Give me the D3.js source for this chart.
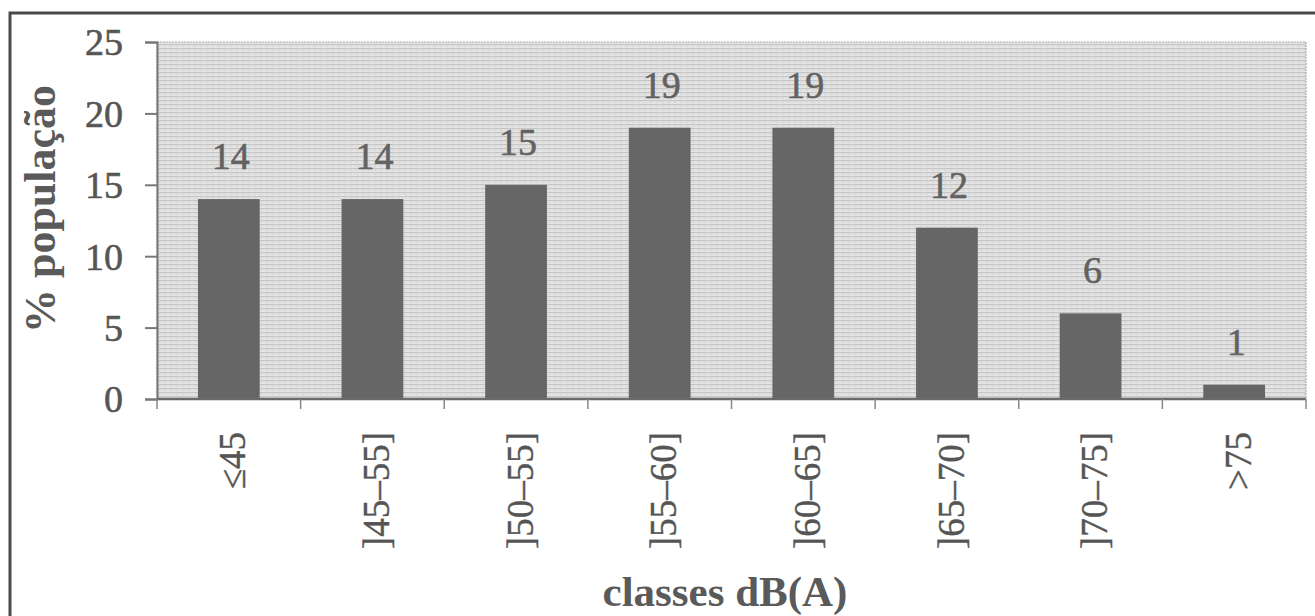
<!DOCTYPE html>
<html>
<head>
<meta charset="utf-8">
<script src="https://cdn.jsdelivr.net/npm/d3@7"></script>
<style>
  html, body { margin: 0; padding: 0; background: #fff; }
  svg { display: block; }
  text { font-family: "Liberation Serif", "Times New Roman", serif; }
</style>
</head>
<body>
<svg id="chart" width="1315" height="616"></svg>
<script>
const categories = ["≤45", "]45–55]", "]50–55]", "]55–60]", "]60–65]", "]65–70]", "]70–75]", ">75"];
const values = [14, 14, 15, 19, 19, 12, 6, 1];
const yTicks = [0, 5, 10, 15, 20, 25];
const yTitle = "% população";
const xTitle = "classes dB(A)";

(function () {
const svg = d3.select("#chart");
const W = 1315, H = 616;
const pLeft = 157, pRight = 1306, pTop = 42, pBottom = 399;

// outer frame (top + left lines)
svg.append("path")
  .attr("d", `M${W},13 L10,13 L10,${H}`)
  .attr("fill", "none").attr("stroke", "#4a4a4a").attr("stroke-width", 3);

// texture pattern
const defs = svg.append("defs");
const pat = defs.append("pattern").attr("id", "tex")
  .attr("patternUnits", "userSpaceOnUse").attr("width", 6).attr("height", 4);
pat.append("rect").attr("width", 6).attr("height", 4).attr("fill", "#e4e4e4");
pat.append("rect").attr("y", 0).attr("width", 6).attr("height", 1.2).attr("fill", "#c6c6c6");
pat.append("rect").attr("x", 2).attr("y", 2).attr("width", 2).attr("height", 1).attr("fill", "#d6d6d6");

const x = d3.scaleBand().domain(categories).range([pLeft, pRight]).paddingInner(0.57).paddingOuter(0.285);
const y = d3.scaleLinear().domain([0, 25]).range([pBottom, pTop]);

// plot area
svg.append("rect")
  .attr("x", pLeft).attr("y", y(25)).attr("width", pRight - pLeft).attr("height", y(0) - y(25))
  .attr("fill", "url(#tex)").attr("stroke", "#b0b0b0").attr("stroke-width", 1.2).attr("stroke-dasharray", "2,1");

// bars
svg.append("g").selectAll("rect").data(values).join("rect")
  .attr("x", (d, i) => x(categories[i]))
  .attr("y", d => y(d))
  .attr("width", x.bandwidth())
  .attr("height", d => y(0) - y(d))
  .attr("fill", "#666666");

// value labels
svg.append("g").selectAll("text").data(values).join("text")
  .attr("x", (d, i) => x(categories[i]) + x.bandwidth() / 2 + 2)
  .attr("y", d => y(d) - 30)
  .attr("text-anchor", "middle")
  .attr("font-size", 38)
  .attr("fill", "#626262").attr("stroke", "#626262").attr("stroke-width", 0.6)
  .text(d => d);

// y axis
const yAxis = svg.append("g").attr("transform", `translate(${pLeft},0)`)
  .call(d3.axisLeft(y).tickValues(yTicks).tickSize(12).tickPadding(22).tickFormat(d3.format("d")));
yAxis.select(".domain").attr("stroke", "#777").attr("stroke-width", 2);
yAxis.selectAll(".tick line").attr("stroke", "#777").attr("stroke-width", 2);
yAxis.selectAll(".tick text")
  .attr("font-family", "Liberation Serif, serif").attr("font-size", 38).attr("fill", "#555")
  .attr("stroke", "#555").attr("stroke-width", 0.6)
  .attr("dy", "0.34em");

// x axis baseline with ticks at band boundaries
const step = x.step();
const bounds = d3.range(categories.length + 1).map(i => pLeft + i * step);
svg.append("line").attr("x1", pLeft).attr("x2", pRight).attr("y1", pBottom).attr("y2", pBottom)
  .attr("stroke", "#6a6a6a").attr("stroke-width", 2.5);
svg.append("g").selectAll("line").data(bounds).join("line")
  .attr("x1", d => d).attr("x2", d => d).attr("y1", pBottom).attr("y2", pBottom + 10)
  .attr("stroke", "#888").attr("stroke-width", 1.5);

// category labels
svg.append("g").selectAll("text").data(categories).join("text")
  .attr("transform", d => `translate(${x(d) + x.bandwidth() / 2 + 4},432) rotate(-90)`)
  .attr("text-anchor", "end")
  .attr("dy", "0.34em")
  .attr("font-size", 37)
  .attr("fill", "#555").attr("stroke", "#555").attr("stroke-width", 0.4)
  .text(d => d);

// axis titles
svg.append("text")
  .attr("transform", `translate(40,209) rotate(-90)`)
  .attr("text-anchor", "middle").attr("dy", "0.34em")
  .attr("font-size", 44).attr("font-weight", "bold").attr("fill", "#5a5a5a")
  .text(yTitle);
svg.append("text")
  .attr("x", 725).attr("y", 606)
  .attr("text-anchor", "middle")
  .attr("font-size", 43).attr("font-weight", "bold").attr("fill", "#5a5a5a")
  .text(xTitle);
})();
</script>
</body>
</html>
